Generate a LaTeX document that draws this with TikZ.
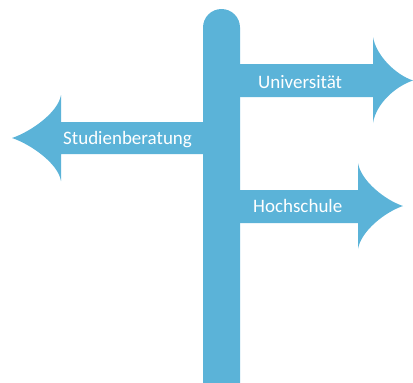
\documentclass[tikz,border=0pt]{standalone}
\usepackage{fontspec}
\setmainfont{Carlito}
\definecolor{signblue}{RGB}{91,179,216}
\begin{document}
\begin{tikzpicture}[x=1pt,y=-1pt,
  sign/.style={fill=signblue,draw=none},
  signtext/.style={text=white,font=\fontsize{19}{23}\selectfont,inner sep=0pt,anchor=base west}]
\useasboundingbox (0,0) rectangle (413,383);
% pole
\fill[sign] (203,383) -- (203,27.5) arc[start angle=180,end angle=360,radius=18.5] -- (240,383) -- cycle;
% arrows
\fill[sign] (240,64) -- (373,64) -- (373,37) .. controls (376,55) and (395,74.5) .. (413,80.5)
  .. controls (395,86.5) and (376,104) .. (373,123) -- (373,97) -- (240,97) -- cycle;
\fill[sign] (203,122) -- (61,122) -- (61,95) .. controls (58,113) and (30,132) .. (12,138)
  .. controls (30,144) and (58,163) .. (61,181) -- (61,154) -- (203,154) -- cycle;
\fill[sign] (240,190) -- (358,190) -- (358,163) .. controls (361,181) and (385,200) .. (403,206)
  .. controls (385,212) and (361,231) .. (358,249) -- (358,223) -- (240,223) -- cycle;
\node[signtext] (uni) at (258,88) {Universität};
\node[signtext] (studien) at (63,144) {Studienberatung};
\node[signtext] (hoch) at (253,212) {Hochschule};
\end{tikzpicture}
\end{document}
